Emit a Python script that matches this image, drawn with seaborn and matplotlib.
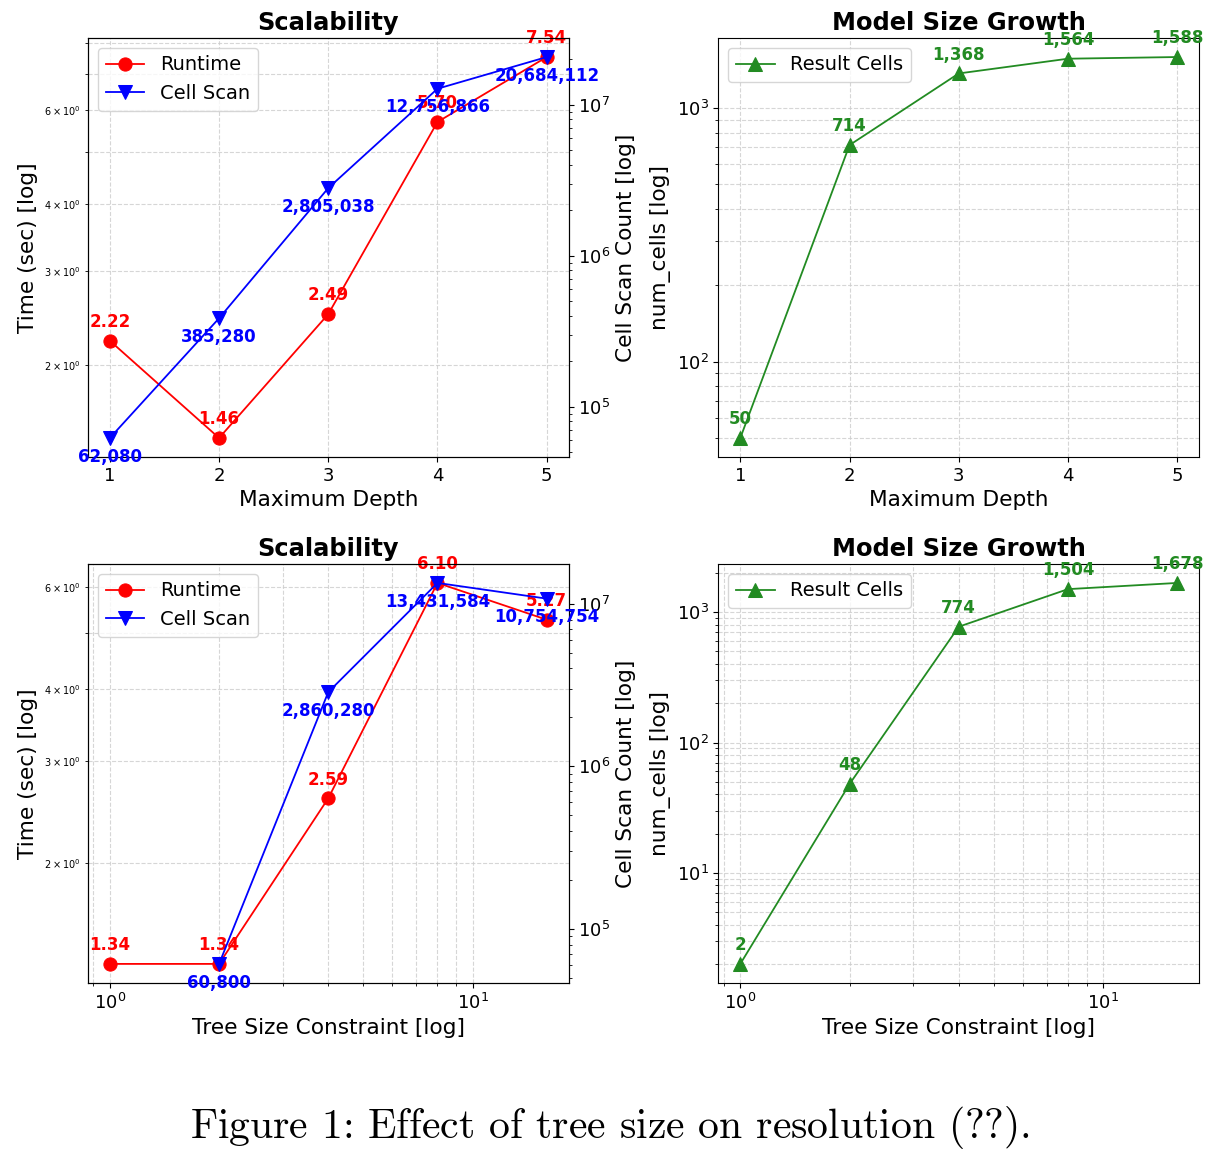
import numpy as np
import pandas as pd
import seaborn as sns
import matplotlib.pyplot as plt

# ── data ─────────────────────────────────────────────
depth = [1, 2, 3, 4, 5]
depth_runtime = [2.22, 1.46, 2.49, 5.70, 7.54]
depth_scan = [62080, 385280, 2805038, 12756866, 20684112]
depth_cells = [50, 714, 1368, 1564, 1588]

tree_size = [1, 2, 4, 8, 16]
size_runtime = [1.34, 1.34, 2.59, 6.10, 5.27]
size_scan = [np.nan, 60800, 2860280, 13431584, 10754754]
size_cells = [2, 48, 774, 1504, 1678]

GRID = dict(linestyle="--", color="#cccccc", linewidth=0.8, alpha=0.8)
LABEL_FS = 15.6
TITLE_FS = 17.4


def scalability(ax, x, runtime, scan, xlabel, logx):
    ax2 = ax.twinx()
    sns.lineplot(x=x, y=runtime, ax=ax, color="red", marker="o", markersize=9.5,
                 markeredgecolor="red", linewidth=1.3, label="Runtime", legend=False)
    sns.lineplot(x=x, y=scan, ax=ax2, color="blue", marker="v", markersize=9.5,
                 markeredgecolor="blue", linewidth=1.3, label="Cell Scan", legend=False)
    ax.set_yscale("log")
    ax2.set_yscale("log")
    if logx:
        ax.set_xscale("log")
    else:
        ax.set_xticks(x)
    for xi, v in zip(x, runtime):
        ax.annotate(f"{v:.2f}", (xi, v), xytext=(0, 7), textcoords="offset points",
                    ha="center", va="bottom", color="red", fontsize=12, fontweight="bold")
    for xi, v in zip(x, scan):
        if np.isnan(v):
            continue
        ax2.annotate(f"{int(v):,}", (xi, v), xytext=(0, -7), textcoords="offset points",
                     ha="center", va="top", color="blue", fontsize=12, fontweight="bold")
    ax.set_title("Scalability", fontsize=TITLE_FS, fontweight="bold")
    ax.set_xlabel(xlabel, fontsize=LABEL_FS)
    ax.set_ylabel("Time (sec) [log]", fontsize=LABEL_FS)
    ax2.set_ylabel("Cell Scan Count [log]", fontsize=LABEL_FS)
    ax.tick_params(which="major", labelsize=13)
    ax.tick_params(axis="y", which="minor", labelsize=7)
    ax2.tick_params(which="major", labelsize=13)
    ax.grid(True, which="both", **GRID)
    h1, l1 = ax.get_legend_handles_labels()
    h2, l2 = ax2.get_legend_handles_labels()
    ax.legend(h1 + h2, l1 + l2, loc="upper left", fontsize=14)


def growth(ax, x, cells, xlabel, logx):
    sns.lineplot(x=x, y=cells, ax=ax, color="forestgreen", marker="^", markersize=10,
                 markeredgecolor="forestgreen", linewidth=1.3, label="Result Cells")
    ax.set_yscale("log")
    if logx:
        ax.set_xscale("log")
    else:
        ax.set_xticks(x)
    for xi, v in zip(x, cells):
        ax.annotate(f"{v:,}", (xi, v), xytext=(0, 7), textcoords="offset points",
                    ha="center", va="bottom", color="forestgreen", fontsize=12, fontweight="bold")
    ax.set_title("Model Size Growth", fontsize=TITLE_FS, fontweight="bold")
    ax.set_xlabel(xlabel, fontsize=LABEL_FS)
    ax.set_ylabel("num_cells [log]", fontsize=LABEL_FS)
    ax.tick_params(which="major", labelsize=13)
    ax.grid(True, which="both", **GRID)
    ax.legend(loc="upper left", fontsize=14)


fig, axes = plt.subplots(2, 2, figsize=(12.19, 11.51), dpi=100)
fig.subplots_adjust(left=0.0722, right=0.9836, top=0.967, bottom=0.146,
                    wspace=0.312, hspace=0.255)

scalability(axes[0, 0], depth, depth_runtime, depth_scan, "Maximum Depth", False)
growth(axes[0, 1], depth, depth_cells, "Maximum Depth", False)
scalability(axes[1, 0], tree_size, size_runtime, size_scan, "Tree Size Constraint [log]", True)
growth(axes[1, 1], tree_size, size_cells, "Tree Size Constraint [log]", True)

fig.text(0.5, 0.020, r"Figure 1: Effect of tree size on resolution ($\mathbf{??}$).",
         ha="center", va="center", fontsize=30, family="cmr10", math_fontfamily="cm")

fig.savefig("out.png", dpi=100)
